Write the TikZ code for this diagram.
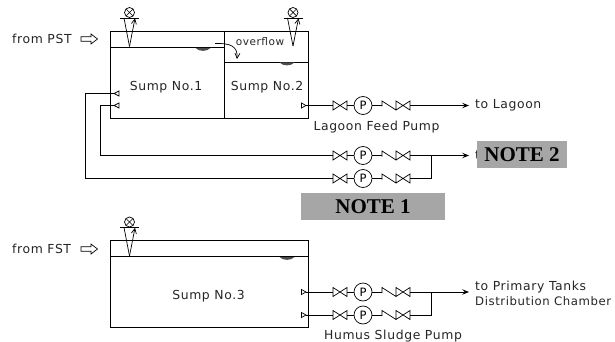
\documentclass[tikz,border=0pt]{standalone}
\usepackage{fontspec}
\setmainfont[LetterSpace=5]{DejaVu Sans}
\newfontfamily\notefont{Liberation Serif}
\usetikzlibrary{arrows.meta}
\tikzset{
  ln/.style={line width=0.9pt,black},
  thin ln/.style={line width=0.7pt,black},
  lbl/.style={font=\fontsize{12.4}{14}\selectfont,inner sep=0pt,text=black!85},
  notebox/.style={fill=black!35,inner sep=0pt,font=\notefont\bfseries\fontsize{21}{24}\selectfont},
  pumpc/.style={circle,draw,line width=0.7pt,minimum size=18pt,inner sep=0pt,font=\fontsize{11.5}{12}\selectfont},
  tip/.style={-{Stealth[length=7pt,width=5.5pt,inset=3pt]}},
}
% floating level switch: #1 x, #2 y of circle, #3 tip y
\newcommand{\floatsw}[3]{
  \draw[thin ln] (#1,#2) circle (5);
  \draw[thin ln] (#1-3.5,#2-3.5) -- (#1+3.5,#2+3.5) (#1-3.5,#2+3.5) -- (#1+3.5,#2-3.5);
  \draw[thin ln] (#1-9.5,#2+5.5) -- (#1+9.5,#2+5.5);
  \draw[thin ln] (#1-5.5,#2+5.5) -- (#1,#3);
  \draw[thin ln,-{Straight Barb[length=5pt,width=5pt]}] (#1,#3) -- (#1+5.5,#2+5.8);
}
% pump train: #1 name, #2 y
\newcommand{\train}[2]{
  \coordinate (#1-in) at (333,#2);
  \coordinate (#1-v2) at (396,#2);
  \coordinate (#1-out) at (410,#2);
  \node[pumpc] (#1-p) at (363,#2) {P};
  \draw[thin ln] (333,#2-4.5) -- (347,#2+4.5) -- (347,#2-4.5) -- (333,#2+4.5) -- cycle;
  \draw[thin ln] (347,#2) -- (#1-p);
  \draw[thin ln] (#1-p) -- (382,#2);
  \draw[thin ln] (382,#2+1) -- (382,#2-4.5) -- (396,#2+4.5) -- (396,#2-4.5) -- (410,#2+4.5) -- (410,#2-4.5) -- (396,#2+4.5);
}
\newcommand{\hollow}[2]{
  \draw[thin ln] (#1,#2-2.2) -- (#1+10,#2-2.2) -- (#1+10,#2-5) -- (#1+16.5,#2) -- (#1+10,#2+5) -- (#1+10,#2+2.2) -- (#1,#2+2.2) -- cycle;
}
\newcommand{\wl}[2]{
  \fill[black!70] (#1-7.5,#2) .. controls (#1-4,#2+3.8) and (#1+4,#2+3.8) .. (#1+7.5,#2) -- cycle;
}
% intake: #1 name, #2 tip x, #3 y, #4 direction
\newcommand{\intake}[4]{
  \coordinate (#1) at (#2,#3);
  \draw[line width=0.7pt] (#2,#3) -- (#2+#4,#3-2.5) -- (#2+#4,#3+2.5) -- cycle;
}
\begin{document}
\begin{tikzpicture}[x=1pt,y=-1pt]
\useasboundingbox (0,0) rectangle (615,342);
\fill[white] (0,0) rectangle (615,342);
% tanks
\draw[ln] (110,31.5) rectangle (308.5,118);
\draw[ln] (224.5,31.5) -- (224.5,118);
\draw[ln] (110,47.5) -- (224.5,47.5);
\draw[ln] (224.5,62) -- (308.5,62);
\draw[ln] (110,240.5) rectangle (308.5,327);
\draw[ln] (110,256.5) -- (308.5,256.5);
\wl{203}{48}\wl{287}{62.5}\wl{287}{257}
% labels
\node[lbl,anchor=west] (fp) at (12,39) {from PST};
\node[lbl,anchor=west] (ff) at (12,248.5) {from FST};
\hollow{81}{39}\hollow{81}{249}
\node[lbl] (t1) at (166,87.5) {Sump No.1};
\node[lbl] (t2) at (267,87.5) {Sump No.2};
\node[lbl] (t3) at (208.5,296.5) {Sump No.3};
\node[lbl,font=\fontsize{10.5}{12}\selectfont] (ov) at (260,41.5) {overflow};
\draw[thin ln,-{Straight Barb[length=5pt,width=5pt]}] (215,43.5) .. controls (230,43) and (238,46) .. (237,59);
\floatsw{129.5}{12.5}{46.5}
\floatsw{293}{12.5}{46}
\floatsw{129.5}{222}{256}
% trains
\train{a}{105.5}\train{b}{155.5}\train{c}{178.5}\train{d}{292}\train{e}{315}
% intakes
\intake{i1}{114}{93.5}{5}
\intake{i2}{114}{105.5}{5}
\intake{i3}{306}{105.5}{-4.5}
\intake{i4}{306}{292}{-4.5}
\intake{i5}{306}{315}{-4.5}
\coordinate (ar) at (469,105.5);
\coordinate (br) at (469,155.5);
\coordinate (dr) at (469,292);
\coordinate (jb) at (431,155.5);
\coordinate (jd) at (431,292);
\draw[thin ln] (i1) -- (85,93.5) |- (c-in);
\draw[thin ln] (i2) -- (100,105.5) |- (b-in);
\draw[thin ln] (i3) -- (a-in);
\draw[thin ln] (i4) -- (d-in);
\draw[thin ln] (i5) -- (e-in);
\draw[thin ln,tip] (a-out) -- (ar);
\draw[thin ln,tip] (b-out) -- (br);
\draw[thin ln,tip] (d-out) -- (dr);
\draw[thin ln] (c-out) -| (jb);
\draw[thin ln] (e-out) -| (jd);
\node[lbl,anchor=west] (tl) at (475,105.5) {to Lagoon};
\node[lbl] (lf) at (376.5,127.5) {Lagoon Feed Pump};
\node[lbl,anchor=west] (tt) at (475,155.5) {t};
\node[lbl,anchor=west] (tp) at (475,287) {to Primary Tanks};
\node[lbl,anchor=west,font=\fontsize{11.7}{13}\selectfont] (dc) at (475,301.5) {Distribution Chamber};
\node[lbl] (hs) at (393,336.5) {Humus Sludge Pump};
% notes
\node[notebox,minimum width=90pt,minimum height=27pt] (n2) at (522,154.5) {NOTE 2};
\node[notebox,minimum width=144pt,minimum height=27pt] (n1) at (373,206.5) {NOTE 1};
\end{tikzpicture}
\end{document}
